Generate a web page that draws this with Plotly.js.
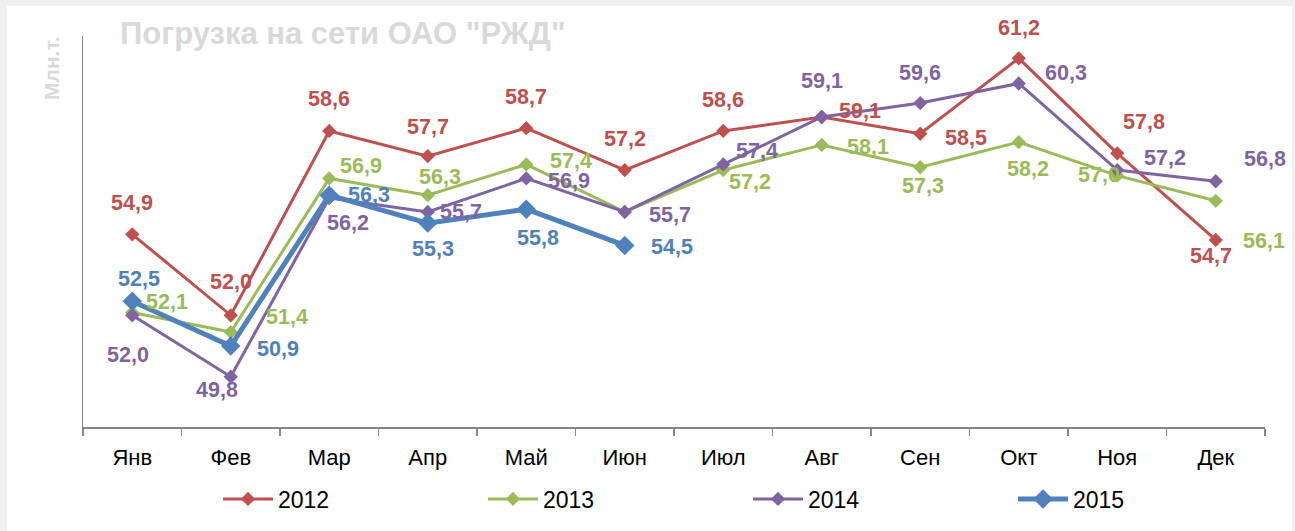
<!DOCTYPE html>
<html>
<head>
<meta charset="utf-8">
<script src="https://cdn.plot.ly/plotly-3.0.1.min.js"></script>
<style>
  html, body { margin: 0; padding: 0; background: #f0f0f0; }
  #bg { position: absolute; left: 7px; top: 6px; width: 1285px; height: 525px; background: #ffffff; }
  #chart { position: absolute; left: 0; top: 0; width: 1295px; height: 531px; }
</style>
</head>
<body>
<div id="bg"></div>
<div id="chart"></div>
<script>
const months = ["Янв", "Фев", "Мар", "Апр", "Май", "Июн", "Июл", "Авг", "Сен", "Окт", "Ноя", "Дек"];
const y2012 = [54.9, 52.0, 58.6, 57.7, 58.7, 57.2, 58.6, 59.1, 58.5, 61.2, 57.8, 54.7];
const y2013 = [52.1, 51.4, 56.9, 56.3, 57.4, 55.7, 57.2, 58.1, 57.3, 58.2, 57.0, 56.1];
const y2014 = [52.0, 49.8, 56.2, 55.7, 56.9, 55.7, 57.4, 59.1, 59.6, 60.3, 57.2, 56.8];
const y2015 = [52.5, 50.9, 56.3, 55.3, 55.8, 54.5];
const seriesNames = ["2012", "2013", "2014", "2015"];
const titleText = 'Погрузка на сети ОАО "РЖД"';
const yTitleText = 'Млн.т.';

const FONT = '"Liberation Sans", Arial, sans-serif';
const colors = ["#C0504D", "#9BBB59", "#8064A2", "#4F81BD"];
const lineW = [3, 3, 3, 5];
const markerS = [11, 11, 11, 15];

// label offsets in pixels [dx, dy] (dy downward); null = label hidden
const offsets = [
  [[0,-31],[0,-33],[0,-32],[0,-29],[0,-31],[0,-31],[0,-31],[38,-6],[46,4],[0,-30],[27,-31],[-5,16]],
  [[35,-10],[56,-15],[32,-12],[12,-18],[45,-3],null,[27,12],[46,2],[3,19],[9,27],[-18,-1],[48,40]],
  [[-4,40],[-14,13],[19,25],[33,0],[43,3],[45,3],[34,-13],[0,-36],[0,-30],[47,-10],[48,-12],[49,-22]],
  [[7,-22],[47,3],[40,0],[5,26],[12,29],[47,2]]
];

const allY = [y2012, y2013, y2014, y2015];
const traces = allY.map((ys, i) => ({
  type: 'scatter',
  mode: 'lines+markers',
  name: seriesNames[i],
  x: months.slice(0, ys.length),
  y: ys,
  line: { color: colors[i], width: lineW[i] },
  marker: { symbol: 'diamond', size: markerS[i], color: colors[i] },
  hoverinfo: 'skip'
}));

const annotations = [];
allY.forEach((ys, i) => {
  ys.forEach((v, j) => {
    const off = offsets[i][j];
    if (!off) return;
    annotations.push({
      x: months[j], y: v, xref: 'x', yref: 'y',
      text: v.toFixed(1).replace('.', ','),
      showarrow: false,
      xshift: off[0], yshift: -off[1],
      font: { family: FONT, size: 21.5, color: colors[i], weight: 'bold' }
    });
  });
});

annotations.push({
  xref: 'paper', yref: 'paper',
  x: (52 - 83) / 1182, y: (428 - 68) / 392,
  text: yTitleText, textangle: -90, showarrow: false,
  xanchor: 'center', yanchor: 'middle',
  font: { family: FONT, size: 21, color: '#d9d9d9', weight: 'bold' }
});

const layout = {
  width: 1295, height: 531,
  paper_bgcolor: 'rgba(0,0,0,0)',
  plot_bgcolor: 'rgba(0,0,0,0)',
  margin: { l: 83, r: 30, t: 36, b: 103 },
  title: {
    text: titleText,
    xref: 'paper', x: (120 - 83) / 1182, xanchor: 'left',
    yref: 'container', y: 1 - 33 / 531, yanchor: 'middle',
    font: { family: FONT, size: 31, color: '#d9d9d9', weight: 'bold' }
  },
  xaxis: {
    type: 'category',
    range: [-0.5, 11.5],
    showline: true, linecolor: '#868686', linewidth: 1.5,
    ticks: 'outside', tickson: 'boundaries', ticklen: 7, tickcolor: '#868686', tickwidth: 1.5,
    ticklabelstandoff: 10,
    showgrid: false, zeroline: false,
    tickfont: { family: FONT, size: 22, color: '#000000' },
    fixedrange: true
  },
  yaxis: {
    range: [48, 62],
    showline: true, linecolor: '#868686', linewidth: 1.5,
    ticks: '', showticklabels: false,
    showgrid: false, zeroline: false,
    fixedrange: true
  },
  showlegend: true,
  legend: {
    orientation: 'h',
    x: (218 - 83) / 1182, xanchor: 'left',
    y: (428 - 499) / 392, yanchor: 'middle',
    entrywidth: 200, entrywidthmode: 'pixels',
    itemwidth: 50,
    font: { family: FONT, size: 23, color: '#000000' },
    bgcolor: 'rgba(0,0,0,0)'
  },
  annotations: annotations
};

Plotly.newPlot('chart', traces, layout, { displayModeBar: false, staticPlot: true });
</script>
</body>
</html>
